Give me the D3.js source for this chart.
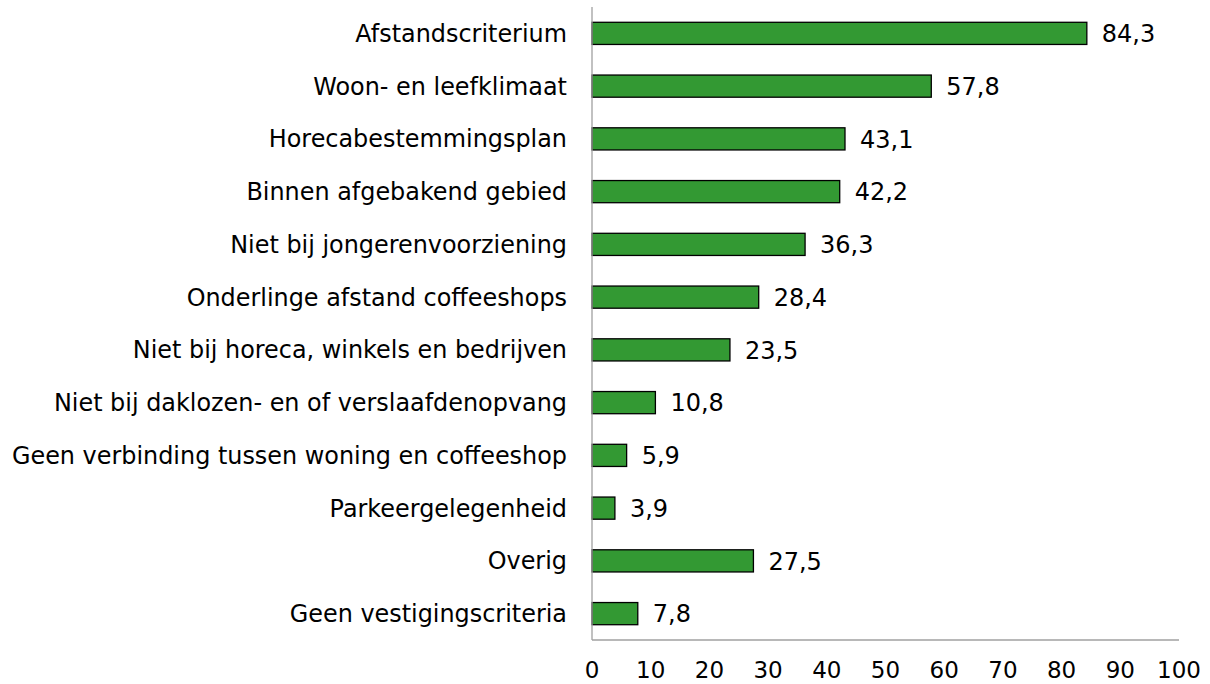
<!DOCTYPE html>
<meta charset="utf-8">
<head>
  <script src="https://d3js.org/d3.v7.min.js"></script>
  <style>
    body { margin: 0; background: #fff; font-family: 'DejaVu Sans', Verdana, sans-serif; }
  </style>
</head>
<div id="my_dataviz"></div>
<script>
  // data
  var categories = [
    "Afstandscriterium",
    "Woon- en leefklimaat",
    "Horecabestemmingsplan",
    "Binnen afgebakend gebied",
    "Niet bij jongerenvoorziening",
    "Onderlinge afstand coffeeshops",
    "Niet bij horeca, winkels en bedrijven",
    "Niet bij daklozen- en of verslaafdenopvang",
    "Geen verbinding tussen woning en coffeeshop",
    "Parkeergelegenheid",
    "Overig",
    "Geen vestigingscriteria"
  ];
  var values = [84.3, 57.8, 43.1, 42.2, 36.3, 28.4, 23.5, 10.8, 5.9, 3.9, 27.5, 7.8];
  var xTicks = [0, 10, 20, 30, 40, 50, 60, 70, 80, 90, 100];

  var margin = { top: 7, right: 31, bottom: 44, left: 592 },
    width = 1210 - margin.left - margin.right,
    height = 684 - margin.top - margin.bottom;

  var svg = d3.select("#my_dataviz")
    .append("svg")
    .attr("width", 1210)
    .attr("height", 684)
    .append("g")
    .attr("transform", "translate(" + margin.left + "," + margin.top + ")");

  var x = d3.scaleLinear().domain([0, 100]).range([0, width]);
  var y = d3.scaleBand().domain(categories).range([0, height]).paddingInner(0.58).paddingOuter(0.29);

  // bars
  svg.selectAll("rect")
    .data(categories)
    .enter()
    .append("rect")
    .attr("x", x(0))
    .attr("y", function (d) { return y(d); })
    .attr("width", function (d, i) { return x(values[i]) - x(0); })
    .attr("height", y.bandwidth())
    .attr("fill", "#339933")
    .attr("stroke", "#000")
    .attr("stroke-width", 1.3);

  // value labels
  svg.selectAll(".val")
    .data(categories)
    .enter()
    .append("text")
    .attr("class", "val")
    .attr("x", function (d, i) { return x(values[i]) + 15; })
    .attr("y", function (d) { return y(d) + y.bandwidth() / 2; })
    .attr("dy", "0.36em")
    .style("font-size", "24px")
    .attr("fill", "#000")
    .text(function (d, i) { return String(values[i]).replace(".", ","); });

  // category labels
  svg.selectAll(".cat")
    .data(categories)
    .enter()
    .append("text")
    .attr("class", "cat")
    .attr("x", -25)
    .attr("y", function (d) { return y(d) + y.bandwidth() / 2; })
    .attr("dy", "0.36em")
    .attr("text-anchor", "end")
    .style("font-size", "23.9px")
    .attr("fill", "#000")
    .text(function (d) { return d; });

  // axes lines
  svg.append("line")
    .attr("x1", 0).attr("x2", 0).attr("y1", 0).attr("y2", height)
    .attr("stroke", "#a0a0a0").attr("stroke-width", 1.3);
  svg.append("line")
    .attr("x1", 0).attr("x2", width).attr("y1", height).attr("y2", height)
    .attr("stroke", "#a0a0a0").attr("stroke-width", 1.3);

  // x tick labels
  svg.selectAll(".tick")
    .data(xTicks)
    .enter()
    .append("text")
    .attr("x", function (d) { return x(d); })
    .attr("y", height + 38)
    .attr("text-anchor", "middle")
    .style("font-size", "23px")
    .attr("fill", "#000")
    .text(function (d) { return d; });
</script>
